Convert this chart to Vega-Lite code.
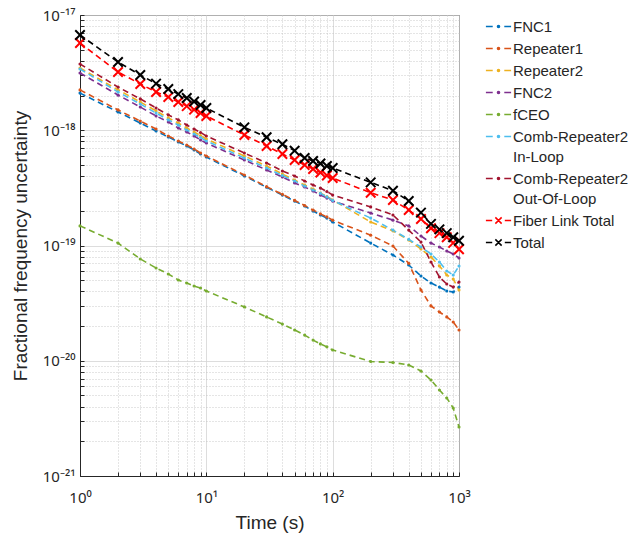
{
  "$schema": "https://vega.github.io/schema/vega-lite/v6.json",
  "width": 379,
  "height": 461,
  "autosize": {"type": "none"},
  "padding": {"left": 80, "top": 15, "right": 180, "bottom": 59},
  "background": "white",
  "config": {
    "font": "Liberation Sans",
    "view": {"stroke": "#262626", "strokeWidth": 1},
    "axis": {
      "domainColor": "#262626",
      "tickColor": "#262626",
      "labelColor": "#262626",
      "titleColor": "#262626",
      "labelFont": "Noto Sans",
      "titleFont": "Liberation Sans",
      "labelFontSize": 15,
      "titleFontSize": 19,
      "titleFontWeight": "normal",
      "labelOverlap": false,
      "labelFlush": false,
      "labelBound": false,
      "gridWidth": 0.8
    }
  },
  "data": {
    "values": [
      {"t": 1, "FNC1": 2.10e-18, "Repeater1": 2.24e-18, "Repeater2": 3.47e-18, "FNC2": 3.14e-18, "fCEO": 1.48e-19, "Comb-Repeater2 In-Loop": 3.40e-18, "Comb-Repeater2 Out-Of-Loop": 3.76e-18, "Fiber Link Total": 5.71e-18, "Total": 6.71e-18},
      {"t": 2, "FNC1": 1.44e-18, "Repeater1": 1.50e-18, "Repeater2": 2.24e-18, "FNC2": 2.02e-18, "fCEO": 1.05e-19, "Comb-Repeater2 In-Loop": 2.15e-18, "Comb-Repeater2 Out-Of-Loop": 2.37e-18, "Fiber Link Total": 3.20e-18, "Total": 3.91e-18},
      {"t": 3, "FNC1": 1.156e-18, "Repeater1": 1.20e-18, "Repeater2": 1.76e-18, "FNC2": 1.59e-18, "fCEO": 7.64e-20, "Comb-Repeater2 In-Loop": 1.69e-18, "Comb-Repeater2 Out-Of-Loop": 1.87e-18, "Fiber Link Total": 2.52e-18, "Total": 3.02e-18},
      {"t": 4, "FNC1": 9.85e-19, "Repeater1": 1.025e-18, "Repeater2": 1.47e-18, "FNC2": 1.33e-18, "fCEO": 6.38e-20, "Comb-Repeater2 In-Loop": 1.41e-18, "Comb-Repeater2 Out-Of-Loop": 1.56e-18, "Fiber Link Total": 2.15e-18, "Total": 2.54e-18},
      {"t": 5, "FNC1": 8.74e-19, "Repeater1": 8.92e-19, "Repeater2": 1.28e-18, "FNC2": 1.18e-18, "fCEO": 5.66e-20, "Comb-Repeater2 In-Loop": 1.23e-18, "Comb-Repeater2 Out-Of-Loop": 1.36e-18, "Fiber Link Total": 1.94e-18, "Total": 2.28e-18},
      {"t": 6, "FNC1": 7.91e-19, "Repeater1": 8.07e-19, "Repeater2": 1.156e-18, "FNC2": 1.046e-18, "fCEO": 5.02e-20, "Comb-Repeater2 In-Loop": 1.11e-18, "Comb-Repeater2 Out-Of-Loop": 1.23e-18, "Fiber Link Total": 1.76e-18, "Total": 2.06e-18},
      {"t": 7, "FNC1": 7.30e-19, "Repeater1": 7.45e-19, "Repeater2": 1.046e-18, "FNC2": 9.66e-19, "fCEO": 4.73e-20, "Comb-Repeater2 In-Loop": 1.005e-18, "Comb-Repeater2 Out-Of-Loop": 1.11e-18, "Fiber Link Total": 1.62e-18, "Total": 1.905e-18},
      {"t": 8, "FNC1": 6.74e-19, "Repeater1": 6.88e-19, "Repeater2": 9.66e-19, "FNC2": 8.92e-19, "fCEO": 4.45e-20, "Comb-Repeater2 In-Loop": 9.28e-19, "Comb-Repeater2 Out-Of-Loop": 1.025e-18, "Fiber Link Total": 1.51e-18, "Total": 1.776e-18},
      {"t": 9, "FNC1": 6.22e-19, "Repeater1": 6.35e-19, "Repeater2": 9.00e-19, "FNC2": 8.23e-19, "fCEO": 4.28e-20, "Comb-Repeater2 In-Loop": 8.65e-19, "Comb-Repeater2 Out-Of-Loop": 9.56e-19, "Fiber Link Total": 1.41e-18, "Total": 1.656e-18},
      {"t": 10, "FNC1": 5.86e-19, "Repeater1": 5.98e-19, "Repeater2": 8.40e-19, "FNC2": 7.75e-19, "fCEO": 4.03e-20, "Comb-Repeater2 In-Loop": 8.07e-19, "Comb-Repeater2 Out-Of-Loop": 8.92e-19, "Fiber Link Total": 1.33e-18, "Total": 1.56e-18},
      {"t": 20, "FNC1": 4.01e-19, "Repeater1": 4.09e-19, "Repeater2": 5.98e-19, "FNC2": 5.52e-19, "fCEO": 2.93e-20, "Comb-Repeater2 In-Loop": 5.74e-19, "Comb-Repeater2 Out-Of-Loop": 6.35e-19, "Fiber Link Total": 9.10e-19, "Total": 1.06e-18},
      {"t": 30, "FNC1": 3.20e-19, "Repeater1": 3.24e-19, "Repeater2": 4.90e-19, "FNC2": 4.52e-19, "fCEO": 2.40e-20, "Comb-Repeater2 In-Loop": 4.70e-19, "Comb-Repeater2 Out-Of-Loop": 5.20e-19, "Fiber Link Total": 7.30e-19, "Total": 8.69e-19},
      {"t": 40, "FNC1": 2.74e-19, "Repeater1": 2.78e-19, "Repeater2": 4.17e-19, "FNC2": 3.93e-19, "fCEO": 2.08e-20, "Comb-Repeater2 In-Loop": 4.05e-19, "Comb-Repeater2 Out-Of-Loop": 4.43e-19, "Fiber Link Total": 6.22e-19, "Total": 7.55e-19},
      {"t": 50, "FNC1": 2.43e-19, "Repeater1": 2.46e-19, "Repeater2": 3.70e-19, "FNC2": 3.49e-19, "fCEO": 1.85e-20, "Comb-Repeater2 In-Loop": 3.63e-19, "Comb-Repeater2 Out-Of-Loop": 4.01e-19, "Fiber Link Total": 5.52e-19, "Total": 6.65e-19},
      {"t": 60, "FNC1": 2.20e-19, "Repeater1": 2.22e-19, "Repeater2": 3.35e-19, "FNC2": 3.22e-19, "fCEO": 1.67e-20, "Comb-Repeater2 In-Loop": 3.28e-19, "Comb-Repeater2 Out-Of-Loop": 3.63e-19, "Fiber Link Total": 4.99e-19, "Total": 5.74e-19},
      {"t": 70, "FNC1": 1.99e-19, "Repeater1": 2.03e-19, "Repeater2": 3.09e-19, "FNC2": 2.97e-19, "fCEO": 1.51e-20, "Comb-Repeater2 In-Loop": 3.03e-19, "Comb-Repeater2 Out-Of-Loop": 3.35e-19, "Fiber Link Total": 4.61e-19, "Total": 5.41e-19},
      {"t": 80, "FNC1": 1.84e-19, "Repeater1": 1.88e-19, "Repeater2": 2.85e-19, "FNC2": 2.74e-19, "fCEO": 1.40e-20, "Comb-Repeater2 In-Loop": 2.83e-19, "Comb-Repeater2 Out-Of-Loop": 3.15e-19, "Fiber Link Total": 4.30e-19, "Total": 5.15e-19},
      {"t": 90, "FNC1": 1.73e-19, "Repeater1": 1.77e-19, "Repeater2": 2.66e-19, "FNC2": 2.58e-19, "fCEO": 1.32e-20, "Comb-Repeater2 In-Loop": 2.64e-19, "Comb-Repeater2 Out-Of-Loop": 2.94e-19, "Fiber Link Total": 4.05e-19, "Total": 4.90e-19},
      {"t": 100, "FNC1": 1.60e-19, "Repeater1": 1.66e-19, "Repeater2": 2.48e-19, "FNC2": 2.43e-19, "fCEO": 1.24e-20, "Comb-Repeater2 In-Loop": 2.46e-19, "Comb-Repeater2 Out-Of-Loop": 2.74e-19, "Fiber Link Total": 3.85e-19, "Total": 4.70e-19},
      {"t": 200, "FNC1": 1.05e-19, "Repeater1": 1.23e-19, "Repeater2": 1.60e-19, "FNC2": 1.91e-19, "fCEO": 9.85e-21, "Comb-Repeater2 In-Loop": 1.73e-19, "Comb-Repeater2 Out-Of-Loop": 2.16e-19, "Fiber Link Total": 2.87e-19, "Total": 3.53e-19},
      {"t": 300, "FNC1": 8.27e-20, "Repeater1": 9.90e-20, "Repeater2": 1.34e-19, "FNC2": 1.66e-19, "fCEO": 9.66e-21, "Comb-Repeater2 In-Loop": 1.36e-19, "Comb-Repeater2 Out-Of-Loop": 1.84e-19, "Fiber Link Total": 2.48e-19, "Total": 2.99e-19},
      {"t": 400, "FNC1": 6.77e-20, "Repeater1": 7.00e-20, "Repeater2": 1.116e-19, "FNC2": 1.48e-19, "fCEO": 9.19e-21, "Comb-Repeater2 In-Loop": 1.13e-19, "Comb-Repeater2 Out-Of-Loop": 1.36e-19, "Fiber Link Total": 2.03e-19, "Total": 2.43e-19},
      {"t": 500, "FNC1": 5.44e-20, "Repeater1": 4.11e-20, "Repeater2": 9.32e-20, "FNC2": 1.21e-19, "fCEO": 8.15e-21, "Comb-Repeater2 In-Loop": 9.70e-20, "Comb-Repeater2 Out-Of-Loop": 1.07e-19, "Fiber Link Total": 1.70e-19, "Total": 1.93e-19},
      {"t": 600, "FNC1": 4.73e-20, "Repeater1": 2.99e-20, "Repeater2": 7.95e-20, "FNC2": 1.05e-19, "fCEO": 6.81e-21, "Comb-Repeater2 In-Loop": 8.44e-20, "Comb-Repeater2 Out-Of-Loop": 7.19e-20, "Fiber Link Total": 1.41e-19, "Total": 1.54e-19},
      {"t": 700, "FNC1": 4.36e-20, "Repeater1": 2.65e-20, "Repeater2": 6.64e-20, "FNC2": 9.70e-20, "fCEO": 5.57e-21, "Comb-Repeater2 In-Loop": 7.19e-20, "Comb-Repeater2 Out-Of-Loop": 5.33e-20, "Fiber Link Total": 1.28e-19, "Total": 1.38e-19},
      {"t": 800, "FNC1": 4.03e-20, "Repeater1": 2.40e-20, "Repeater2": 5.55e-20, "FNC2": 8.96e-20, "fCEO": 4.75e-21, "Comb-Repeater2 In-Loop": 6.01e-20, "Comb-Repeater2 Out-Of-Loop": 4.63e-20, "Fiber Link Total": 1.18e-19, "Total": 1.28e-19},
      {"t": 900, "FNC1": 3.95e-20, "Repeater1": 2.17e-20, "Repeater2": 5.12e-20, "FNC2": 8.44e-20, "fCEO": 3.89e-21, "Comb-Repeater2 In-Loop": 5.55e-20, "Comb-Repeater2 Out-Of-Loop": 4.36e-20, "Fiber Link Total": 1.054e-19, "Total": 1.18e-19},
      {"t": 1000, "FNC1": 4.36e-20, "Repeater1": 1.85e-20, "Repeater2": 4.11e-20, "FNC2": 7.79e-20, "fCEO": 2.66e-21, "Comb-Repeater2 In-Loop": 6.64e-20, "Comb-Repeater2 Out-Of-Loop": 4.82e-20, "Fiber Link Total": 9.27e-20, "Total": 1.10e-19}
    ]
  },
  "transform": [
    {"fold": ["FNC1", "Repeater1", "Repeater2", "FNC2", "fCEO", "Comb-Repeater2 In-Loop", "Comb-Repeater2 Out-Of-Loop", "Fiber Link Total", "Total"], "as": ["series", "v"]}
  ],
  "encoding": {
    "x": {
      "field": "t",
      "type": "quantitative",
      "scale": {"type": "log", "domain": [1, 1000]},
      "axis": {
        "title": "Time (s)",
        "values": [1, 2, 3, 4, 5, 6, 7, 8, 9, 10, 20, 30, 40, 50, 60, 70, 80, 90, 100, 200, 300, 400, 500, 600, 700, 800, 900, 1000],
        "labelExpr": "datum.value == 1 ? '10⁰' : datum.value == 10 ? '10¹' : datum.value == 100 ? '10²' : datum.value == 1000 ? '10³' : ''",
        "gridDash": {"condition": {"test": "indexof([1, 10, 100, 1000], datum.value) >= 0", "value": []}, "value": [1, 2]},
        "gridColor": {"condition": {"test": "indexof([1, 10, 100, 1000], datum.value) >= 0", "value": "#d4d4d4"}, "value": "#bdbdbd"},
        "tickSize": -4,
        "labelPadding": 18,
        "titlePadding": 8
      }
    },
    "y": {
      "field": "v",
      "type": "quantitative",
      "scale": {"type": "log", "domain": [1e-21, 1e-17]},
      "axis": {
        "title": "Fractional frequency uncertainty",
        "values": [1e-21, 2e-21, 3e-21, 4e-21, 5e-21, 6e-21, 7e-21, 8e-21, 9e-21, 1e-20, 2e-20, 3e-20, 4e-20, 5e-20, 6e-20, 7e-20, 8e-20, 9e-20, 1e-19, 2e-19, 3e-19, 4e-19, 5e-19, 6e-19, 7e-19, 8e-19, 9e-19, 1e-18, 2e-18, 3e-18, 4e-18, 5e-18, 6e-18, 7e-18, 8e-18, 9e-18, 1e-17],
        "labelExpr": "abs(log(datum.value)/LN10 - round(log(datum.value)/LN10)) < 0.001 ? (round(log(datum.value)/LN10) == -17 ? '10⁻¹⁷' : round(log(datum.value)/LN10) == -18 ? '10⁻¹⁸' : round(log(datum.value)/LN10) == -19 ? '10⁻¹⁹' : round(log(datum.value)/LN10) == -20 ? '10⁻²⁰' : '10⁻²¹') : ''",
        "gridDash": {"condition": {"test": "abs(log(datum.value)/LN10 - round(log(datum.value)/LN10)) < 0.001", "value": []}, "value": [1, 2]},
        "gridColor": {"condition": {"test": "abs(log(datum.value)/LN10 - round(log(datum.value)/LN10)) < 0.001", "value": "#d4d4d4"}, "value": "#bdbdbd"},
        "tickSize": -4,
        "labelPadding": 9,
        "titlePadding": 12
      }
    },
    "color": {
      "field": "series",
      "type": "nominal",
      "scale": {
        "domain": ["FNC1", "Repeater1", "Repeater2", "FNC2", "fCEO", "Comb-Repeater2 In-Loop", "Comb-Repeater2 Out-Of-Loop", "Fiber Link Total", "Total"],
        "range": ["#0072BD", "#D95319", "#EDB120", "#7E2F8E", "#77AC30", "#4DBEEE", "#A2142F", "#FF0000", "#000000"]
      },
      "legend": {
        "title": null,
        "orient": "none",
        "legendX": 407,
        "legendY": 0,
        "labelFontSize": 15,
        "labelColor": "#262626",
        "labelFont": "Liberation Sans",
        "labelLimit": 200,
        "symbolSize": 441,
        "symbolStrokeWidth": 1.5,
        "labelOffset": 3,
        "rowPadding": 2,
        "labelExpr": "datum.label == 'Comb-Repeater2 In-Loop' ? ['Comb-Repeater2', 'In-Loop'] : datum.label == 'Comb-Repeater2 Out-Of-Loop' ? ['Comb-Repeater2', 'Out-Of-Loop'] : datum.label",
        "encode": {"labels": {"update": {"lineHeight": {"value": 20}}}}
      }
    }
  },
  "layer": [
    {"mark": {"type": "line", "strokeDash": [6, 4], "strokeWidth": 1.6}},
    {
      "transform": [{"filter": "datum.series != 'Fiber Link Total' && datum.series != 'Total'"}],
      "mark": {"type": "point", "filled": true, "size": 10, "opacity": 1}
    },
    {
      "transform": [{"filter": "datum.series == 'Fiber Link Total' || datum.series == 'Total'"}],
      "mark": {"type": "point", "shape": "M-1,-1L1,1M-1,1L1,-1", "filled": false, "size": 90, "strokeWidth": 2, "opacity": 1}
    },
    {
      "transform": [{"filter": "false"}],
      "mark": {"type": "point", "filled": false, "strokeWidth": 1.5, "size": 441, "opacity": 1},
      "encoding": {
        "shape": {
          "field": "series",
          "type": "nominal",
          "scale": {
            "domain": ["FNC1", "Repeater1", "Repeater2", "FNC2", "fCEO", "Comb-Repeater2 In-Loop", "Comb-Repeater2 Out-Of-Loop", "Fiber Link Total", "Total"],
            "range": [
              "M-1.2,0H-0.55M0.55,0H1.2M-0.1,0A0.1,0.1,0,1,1,0.1,0A0.1,0.1,0,1,1,-0.1,0",
              "M-1.2,0H-0.55M0.55,0H1.2M-0.1,0A0.1,0.1,0,1,1,0.1,0A0.1,0.1,0,1,1,-0.1,0",
              "M-1.2,0H-0.55M0.55,0H1.2M-0.1,0A0.1,0.1,0,1,1,0.1,0A0.1,0.1,0,1,1,-0.1,0",
              "M-1.2,0H-0.55M0.55,0H1.2M-0.1,0A0.1,0.1,0,1,1,0.1,0A0.1,0.1,0,1,1,-0.1,0",
              "M-1.2,0H-0.55M0.55,0H1.2M-0.1,0A0.1,0.1,0,1,1,0.1,0A0.1,0.1,0,1,1,-0.1,0",
              "M-1.2,0H-0.55M0.55,0H1.2M-0.1,0A0.1,0.1,0,1,1,0.1,0A0.1,0.1,0,1,1,-0.1,0",
              "M-1.2,0H-0.55M0.55,0H1.2M-0.1,0A0.1,0.1,0,1,1,0.1,0A0.1,0.1,0,1,1,-0.1,0",
              "M-1.2,0H-0.6M0.6,0H1.2M-0.3,-0.3L0.3,0.3M-0.3,0.3L0.3,-0.3",
              "M-1.2,0H-0.6M0.6,0H1.2M-0.3,-0.3L0.3,0.3M-0.3,0.3L0.3,-0.3"
            ]
          },
          "legend": {
            "title": null,
            "orient": "none",
            "legendX": 407,
            "legendY": 0,
            "labelFontSize": 15,
            "labelColor": "#262626",
            "labelFont": "Liberation Sans",
            "labelLimit": 200,
            "symbolSize": 441,
            "symbolStrokeWidth": 1.5,
            "labelOffset": 3,
            "rowPadding": 2,
            "labelExpr": "datum.label == 'Comb-Repeater2 In-Loop' ? ['Comb-Repeater2', 'In-Loop'] : datum.label == 'Comb-Repeater2 Out-Of-Loop' ? ['Comb-Repeater2', 'Out-Of-Loop'] : datum.label",
            "encode": {"labels": {"update": {"lineHeight": {"value": 20}}}}
          }
        }
      }
    }
  ]
}
